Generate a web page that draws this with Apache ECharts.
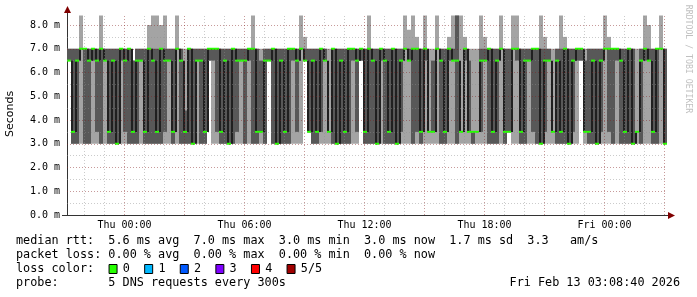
<!DOCTYPE html>
<html>
<head>
<meta charset="utf-8">
<script src="https://cdn.jsdelivr.net/npm/echarts@6/dist/echarts.min.js"></script>
<style>
  html, body { margin: 0; padding: 0; background: #fff; }
  #container { width: 697px; height: 297px; }
</style>
</head>
<body>
<div id="container"></div>
<script>
// time in hours relative to Thu 00:00, one sample every 12 min
const sampleStart = -2.875
const sampleStep = 0.2

// sorted pings per sample (ms)
const ping1 = [
  6.5, 3, 3, 3, 3, 3, 3, 3, 3, 3,
  3, 3, 3, 3, 3, 3, 3, 3, 3, 3,
  3, 3, 3, 3, 3, 3, 3, 3, 3, 3,
  3, 3, 3, 3, 3, 6.5, 3, 3, 3, 3,
  3, 3, 3, 3, 3, 3, 3, 3, 3, 3,
  6.5, 3, 3, 3, 3, 3, 3, 3, 3, 6.5,
  3.5, 3, 3, 3, 3, 3, 3, 3, 3, 3,
  3, 3, 3, 6.5, 3, 3, 3, 3, 3, 3,
  3, 3, 3, 3, 3, 3, 3, 3, 3, 3,
  3, 3, 3, 3, 3, 3, 3, 3, 3, 3,
  3, 3, 3, 3, 3, 3, 3, 3, 3, 3,
  3.5, 3, 3, 3, 3, 3, 3, 3, 3, 3,
  3, 3, 3, 3, 3, 3, 3, 3, 6.5, 3,
  3, 3, 3, 3, 3, 3, 3, 3, 3, 3,
  3, 3, 3, 3, 3, 3, 3, 3, 3, 3
]
const ping2 = [
  6.5, 3, 3, 7, 3, 3, 6.5, 3.5, 3, 6.5,
  3, 3, 3, 6.5, 3.5, 3, 3, 3, 6.5, 3,
  3, 3, 3, 3, 3.5, 6.5, 3, 7, 3, 3,
  3, 3, 6.5, 3, 3, 6.5, 6.5, 3.5, 3, 3,
  3, 3, 3.5, 6.5, 3, 6.5, 3, 3, 3.5, 3,
  6.5, 3, 3, 3, 3, 3, 6.5, 3.5, 7, 6.5,
  3.5, 3, 3, 3.5, 6.5, 3.5, 3, 3, 3, 3,
  3, 6.5, 3.5, 6.5, 3, 3, 3, 3, 6.5, 3,
  3, 3, 3, 3.5, 7, 6.5, 3, 3.5, 3, 6.5,
  3.5, 3.5, 7, 3, 3, 6.5, 6.5, 3, 3.5, 6.5,
  3.5, 3, 3.5, 3.5, 6.5, 3, 3, 3, 7, 3,
  3.5, 7, 6.5, 3, 3, 6.5, 3.5, 3, 3, 3.5,
  6.5, 3.5, 3, 3, 3, 3, 3.5, 6.5, 6.5, 3.5,
  3, 3, 3, 3.5, 7, 3.5, 3, 6.5, 3, 3,
  3, 3, 3.5, 3, 6.5, 6.5, 3, 3, 7, 3
]
const ping3 = [
  6.5, 3.5, 6.5, 7, 7, 6.5, 7, 6.5, 7, 6.5,
  3.5, 6.5, 3, 7, 6.5, 7, 3.5, 6.5, 6.5, 3.5,
  7, 6.5, 3.5, 7, 6.5, 6.5, 3.5, 7, 6.5, 3.5,
  7, 3, 6.5, 6.5, 3.5, 7, 7, 7, 3.5, 6.5,
  3, 7, 6.5, 6.5, 6.5, 7, 7, 3.5, 3.5, 6.5,
  6.5, 7, 3, 6.5, 3.5, 7, 7, 6.5, 7, 6.5,
  3.5, 6.5, 3.5, 7, 6.5, 3.5, 7, 3, 6.5, 3.5,
  7, 7, 6.5, 7, 3.5, 7, 6.5, 3, 7, 6.5,
  3.5, 7, 3, 6.5, 7, 6.5, 7, 7, 3.5, 7,
  3.5, 3.5, 7, 6.5, 3.5, 7, 6.5, 6.5, 3.5, 7,
  3.5, 3.5, 3.5, 6.5, 6.5, 7, 3.5, 6.5, 7, 3.5,
  3.5, 7, 7, 3.5, 6.5, 6.5, 7, 7, 3, 6.5,
  6.5, 3.5, 6.5, 3.5, 7, 3, 6.5, 7, 7, 3.5,
  3.5, 6.5, 3, 6.5, 7, 7, 7, 7, 6.5, 3.5,
  7, 3, 3.5, 6.5, 7, 6.5, 3.5, 7, 7, 3
]
const ping4 = [
  7, 7, 7, 7, 7, 7, 7, 7, 7, 7,
  7, 7, 7, 7, 7, 7, 6.5, 7, 7, 7,
  7, 7, 7, 7, 7, 7, 7, 7, 7, 4.4,
  7, 7, 7, 7, 7, 7, 7, 7, 7, 7,
  7, 7, 7, 7, 7, 7, 7, 7, 6.5, 7,
  7, 7, 7, 7, 7, 7, 7, 7, 7, 7,
  7, 7, 7, 7, 7, 3.5, 7, 7, 7, 7,
  7, 7, 7, 7, 7, 7, 7, 7, 7, 7,
  7, 7, 7, 7, 7, 7, 7, 7, 7, 7,
  3.5, 6.5, 7, 7, 7, 7, 7, 8.4, 3.5, 7,
  6.5, 3.5, 3.5, 7, 7, 7, 7, 7, 7, 7,
  7, 7, 7, 7, 7, 7, 7, 7, 7, 7,
  7, 3.5, 7, 7, 7, 7, 7, 7, 7, 6.5,
  7, 7, 7, 7, 7, 7, 7, 7, 7, 7,
  7, 7, 3.5, 7, 7, 7, 7, 7, 7, 7
]
const ping5 = [
  7, 7, 7, 8.4, 7, 7, 7, 7, 8.4, 7,
  7, 7, 7, 7, 7, 7, 6.5, 7, 7, 7,
  8.0, 8.4, 8.4, 8.0, 8.4, 7, 7, 8.4, 7, 7,
  7, 7, 7, 7, 7, 7, 7, 7, 7, 7,
  7, 7, 7, 7, 7, 7, 8.4, 7, 7, 7,
  7, 7, 7, 7, 7, 7, 7, 7, 8.4, 7.5,
  7, 7, 7, 7, 7, 7, 7, 7, 7, 7,
  7, 7, 7, 7, 7, 8.4, 7, 7, 7, 7,
  7, 7, 7, 7, 8.4, 7.8, 8.4, 7.5, 7, 8.4,
  7, 7, 8.4, 7, 7, 7.5, 8.4, 8.4, 8.4, 7.5,
  7, 7, 7, 8.4, 7.5, 7, 7, 7, 8.4, 7,
  7, 8.4, 8.4, 7, 7, 7, 7, 7, 8.4, 7.5,
  7, 7, 7, 8.4, 7.5, 7, 7, 7, 7, 7,
  7, 7, 7, 7, 8.4, 7.5, 7, 7, 7, 7,
  7, 7, 7, 7, 8.4, 8.0, 7, 7, 8.4, 7
]

const xTickHours = [0, 6, 12, 18, 24]
const xTickLabels = ['Thu 00:00', 'Thu 06:00', 'Thu 12:00', 'Thu 18:00', 'Fri 00:00']
const yTickValues = [0, 1, 2, 3, 4, 5, 6, 7, 8]
const xGridHours = [-2, -1, 0, 1, 2, 3, 4, 5, 6, 7, 8, 9, 10, 11, 12, 13, 14, 15, 16, 17, 18, 19, 20, 21, 22, 23, 24, 25, 26, 27]
const yGridValues = [0.5, 1, 1.5, 2, 2.5, 3, 3.5, 4, 4.5, 5, 5.5, 6, 6.5, 7, 7.5, 8]

const lossLabels = ['0', '1', '2', '3', '4', '5/5']
const lossColors = ['#26ff00', '#00b8ff', '#0059ff', '#7e00ff', '#ff0000', '#a00000']

const legendLines = [
    'median rtt:  5.6 ms avg  7.0 ms max  3.0 ms min  3.0 ms now  1.7 ms sd  3.3   am/s',
    'packet loss: 0.00 % avg  0.00 % max  0.00 % min  0.00 % now',
    'loss color:',
    'probe:       5 DNS requests every 300s'
]
const stamp = 'Fri Feb 13 03:08:40 2026'

const smokeData = ping1.map((p, i) => [
    sampleStart + i * sampleStep,
    p, ping2[i], ping3[i], ping4[i], ping5[i],
    i > 0 ? ping3[i - 1] : ping3[i]
])

const MONO = '"DejaVu Sans Mono", monospace'
const CHAR = 7.12
const TEXT_X = 16
const LINE_Y = [241, 255, 269, 283]

const dom = document.getElementById('container')
const myChart = echarts.init(dom)

function renderSmoke(params, api) {
    const t = api.value(0)
    const w = api.size([sampleStep, 0])[0]
    const x = api.coord([t, 0])[0]
    const y = (v) => api.coord([t, v])[1]
    return {
        type: 'group',
        children: [
            {
                type: 'rect',
                shape: { x: x, y: y(api.value(5)), width: w, height: y(api.value(1)) - y(api.value(5)) },
                style: { fill: '#a4a4a4' }
            },
            {
                type: 'rect',
                shape: { x: x, y: y(api.value(4)), width: w, height: y(api.value(2)) - y(api.value(4)) },
                style: { fill: '#585858' }
            }
        ]
    }
}

// dark step line through the medians, then the loss-coloured median band
function renderMedian(params, api) {
    const t = api.value(0)
    const w = api.size([sampleStep, 0])[0]
    const x = api.coord([t, 0])[0]
    const ym = api.coord([t, api.value(3)])[1]
    const yp = api.coord([t, api.value(6)])[1]
    return {
        type: 'group',
        children: [
            {
                type: 'line',
                shape: { x1: x + 1, y1: yp, x2: x + 1, y2: ym },
                style: { stroke: '#202020', lineWidth: 2 }
            },
            {
                type: 'rect',
                shape: { x: x, y: ym - 1, width: w, height: 2 },
                style: { fill: lossColors[0] }
            }
        ]
    }
}

const gridLines = []
xGridHours.forEach((h) => {
    gridLines.push({
        xAxis: h,
        lineStyle: { color: h % 3 === 0 ? 'rgba(130,30,30,0.45)' : 'rgba(140,140,140,0.45)' }
    })
})
yGridValues.forEach((v) => {
    gridLines.push({
        yAxis: v,
        lineStyle: { color: v % 1 === 0 ? 'rgba(130,30,30,0.45)' : 'rgba(140,140,140,0.45)' }
    })
})

const graphics = [
    // y axis extension + arrow
    { type: 'line', shape: { x1: 67.5, y1: 15, x2: 67.5, y2: 10 }, style: { stroke: '#333', lineWidth: 1 } },
    { type: 'polygon', shape: { points: [[64, 13], [71, 13], [67.5, 6]] }, style: { fill: '#800000' } },
    // x axis extensions + arrow
    { type: 'line', shape: { x1: 62, y1: 215.5, x2: 67, y2: 215.5 }, style: { stroke: '#333', lineWidth: 1 } },
    { type: 'line', shape: { x1: 667, y1: 215.5, x2: 669, y2: 215.5 }, style: { stroke: '#333', lineWidth: 1 } },
    { type: 'polygon', shape: { points: [[668, 212], [668, 219], [675, 215.5]] }, style: { fill: '#800000' } },
    {
        type: 'text', x: 10, y: 114, rotation: Math.PI / 2,
        style: { text: 'Seconds', font: '11px "DejaVu Sans", sans-serif', fill: '#000', align: 'center', verticalAlign: 'middle' }
    },
    {
        type: 'text', x: 688, y: 59, rotation: -Math.PI / 2,
        style: { text: 'RRDTOOL / TOBI OETIKER', font: '8.2px ' + MONO, fill: '#c0c0c0', align: 'center', verticalAlign: 'middle' }
    },
    {
        type: 'text', x: 680, y: LINE_Y[3],
        style: { text: stamp, font: '11.8px ' + MONO, fill: '#000', align: 'right', verticalAlign: 'middle' }
    }
]
legendLines.forEach((s, i) => {
    graphics.push({
        type: 'text', x: TEXT_X, y: LINE_Y[i],
        style: { text: s, font: '11.8px ' + MONO, fill: '#000', align: 'left', verticalAlign: 'middle' }
    })
})
lossLabels.forEach((s, i) => {
    const bx = TEXT_X + (13 + 5 * i) * CHAR
    graphics.push({
        type: 'rect', shape: { x: bx + 0.5, y: LINE_Y[2] - 4.5, width: 8, height: 9 },
        style: { fill: lossColors[i], stroke: '#000', lineWidth: 1 }
    })
    graphics.push({
        type: 'text', x: bx + 2 * CHAR, y: LINE_Y[2],
        style: { text: s, font: '11.8px ' + MONO, fill: '#000', align: 'left', verticalAlign: 'middle' }
    })
})

const option = {
    backgroundColor: '#fff',
    animation: false,
    grid: { left: 67, right: 30, top: 15, bottom: 82 },
    xAxis: {
        type: 'value',
        min: sampleStart,
        max: sampleStart + 30,
        axisLine: { show: true, onZero: false, lineStyle: { color: '#333', width: 1 } },
        axisTick: { show: false },
        splitLine: { show: false },
        axisLabel: {
            customValues: xTickHours,
            formatter: (v) => xTickLabels[xTickHours.indexOf(v)] || '',
            fontFamily: 'DejaVu Sans Mono',
            fontSize: 10,
            color: '#000',
            margin: 5
        }
    },
    yAxis: {
        type: 'value',
        min: 0,
        max: 200 / 23.75,
        axisLine: { show: true, onZero: false, lineStyle: { color: '#333', width: 1 } },
        axisTick: { show: false },
        splitLine: { show: false },
        axisLabel: {
            customValues: yTickValues,
            formatter: (v) => v.toFixed(1) + ' m',
            fontFamily: 'DejaVu Sans Mono',
            fontSize: 10,
            color: '#000',
            margin: 7
        }
    },
    graphic: graphics,
    series: [
        {
            type: 'custom',
            renderItem: renderSmoke,
            encode: { x: 0, y: [1, 2, 3, 4, 5] },
            data: smokeData,
            z: 2,
            silent: true
        },
        {
            type: 'line',
            data: [],
            z: 3,
            markLine: {
                silent: true,
                symbol: ['none', 'none'],
                label: { show: false },
                lineStyle: { type: [1, 2], width: 1 },
                data: gridLines
            }
        },
        {
            type: 'custom',
            renderItem: renderMedian,
            encode: { x: 0, y: 3 },
            data: smokeData,
            z: 4,
            silent: true
        }
    ]
}

myChart.setOption(option)
</script>
</body>
</html>
